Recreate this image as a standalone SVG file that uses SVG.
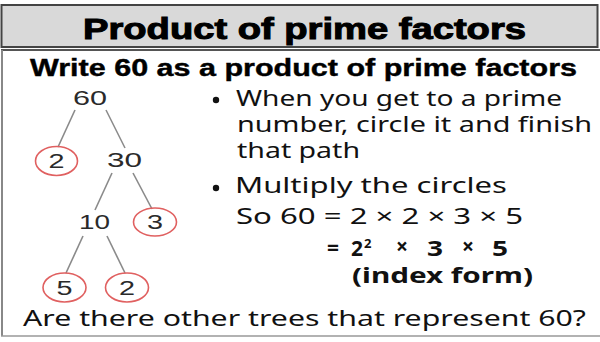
<svg xmlns="http://www.w3.org/2000/svg" width="600" height="342" viewBox="0 0 600 342">
<style>
.title{font-family:"Liberation Sans",Arial,sans-serif;font-weight:bold;fill:#000}
.num{font-family:"Liberation Sans",Arial,sans-serif;font-size:20px;fill:#2a2a2a;text-anchor:middle}
.comic{font-family:"Noto Sans","Liberation Sans",sans-serif;font-size:21px;fill:#111}
.bold{font-weight:bold}
.edge{stroke:#8a8a8a;stroke-width:1.6;fill:none}
.prime{fill:none;stroke:#e06060;stroke-width:1.6}
</style>
<rect width="600" height="342" fill="#fff"/>
<g id="frame">
<rect x="1.5" y="5" width="596" height="42" fill="#d9d9d9" stroke="#444" stroke-width="2"/>
<line x1="1" y1="50" x2="600" y2="50" stroke="#555" stroke-width="2"/>
<line x1="2" y1="50" x2="2" y2="336" stroke="#888" stroke-width="2"/>
<line x1="1" y1="336" x2="600" y2="336" stroke="#999" stroke-width="1.5"/>
</g>
<g id="title"><text class="title" x="83" y="39" font-size="29" stroke="#000" stroke-width="1" textLength="443" lengthAdjust="spacingAndGlyphs">Product of prime factors</text></g>
<g id="subtitle"><text class="title" x="30" y="76" font-size="24" stroke="#000" stroke-width="0.4" textLength="547" lengthAdjust="spacingAndGlyphs">Write 60 as a product of prime factors</text></g>
<g id="connectors">
<line class="edge" x1="75" y1="110" x2="58" y2="147"/>
<line class="edge" x1="106" y1="110" x2="125" y2="148"/>
<line class="edge" x1="112" y1="173" x2="95" y2="210"/>
<line class="edge" x1="133" y1="173" x2="152" y2="209"/>
<line class="edge" x1="83" y1="236" x2="66" y2="273"/>
<line class="edge" x1="107" y1="236" x2="125" y2="273"/>
</g>
<g id="n60"><text class="num" x="90" y="105" textLength="34" lengthAdjust="spacingAndGlyphs">60</text></g>
<g id="n2a"><ellipse class="prime" cx="56.5" cy="161" rx="21" ry="14.5"/><text class="num" x="56.5" y="168" textLength="16" lengthAdjust="spacingAndGlyphs">2</text></g>
<g id="n30"><text class="num" x="124.5" y="167" textLength="35" lengthAdjust="spacingAndGlyphs">30</text></g>
<g id="n10"><text class="num" x="94.5" y="229" textLength="31" lengthAdjust="spacingAndGlyphs">10</text></g>
<g id="n3"><ellipse class="prime" cx="155" cy="222" rx="21.5" ry="14"/><text class="num" x="155" y="229" textLength="16" lengthAdjust="spacingAndGlyphs">3</text></g>
<g id="n5"><ellipse class="prime" cx="64.5" cy="287.5" rx="21.5" ry="14.5"/><text class="num" x="64.5" y="295" textLength="16" lengthAdjust="spacingAndGlyphs">5</text></g>
<g id="n2b"><ellipse class="prime" cx="127" cy="287.5" rx="21.5" ry="14.5"/><text class="num" x="127" y="295" textLength="16" lengthAdjust="spacingAndGlyphs">2</text></g>
<g id="notes">
<circle cx="216" cy="100" r="3.2" fill="#111"/>
<text class="comic" x="236" y="106" textLength="326" lengthAdjust="spacingAndGlyphs">When you get to a prime</text>
<text class="comic" x="237" y="132" textLength="355" lengthAdjust="spacingAndGlyphs">number, circle it and finish</text>
<text class="comic" x="237" y="158" textLength="123" lengthAdjust="spacingAndGlyphs">that path</text>
<circle cx="216" cy="188" r="3.2" fill="#111"/>
<text class="comic" x="235" y="193" textLength="272" lengthAdjust="spacingAndGlyphs">Multiply the circles</text>
<text class="comic" x="236" y="224" textLength="287" lengthAdjust="spacingAndGlyphs">So 60 = 2 × 2 × 3 × 5</text>
<text class="comic bold" x="327" y="255" font-size="22" textLength="12" lengthAdjust="spacingAndGlyphs">=</text>
<text class="comic bold" x="351" y="256" font-size="22">2<tspan dx="1" dy="-8" font-size="13">2</tspan></text>
<text class="comic bold" x="396" y="254" font-size="22" textLength="12" lengthAdjust="spacingAndGlyphs">×</text>
<text class="comic bold" x="427" y="256" font-size="22" textLength="16" lengthAdjust="spacingAndGlyphs">3</text>
<text class="comic bold" x="462" y="254" font-size="22" textLength="12" lengthAdjust="spacingAndGlyphs">×</text>
<text class="comic bold" x="492" y="256" font-size="22" textLength="16" lengthAdjust="spacingAndGlyphs">5</text>
<text class="comic bold" x="352" y="283" textLength="181" lengthAdjust="spacingAndGlyphs">(index form)</text>
<text class="comic" x="23" y="326" textLength="563" lengthAdjust="spacingAndGlyphs">Are there other trees that represent 60?</text>
</g>
</svg>
